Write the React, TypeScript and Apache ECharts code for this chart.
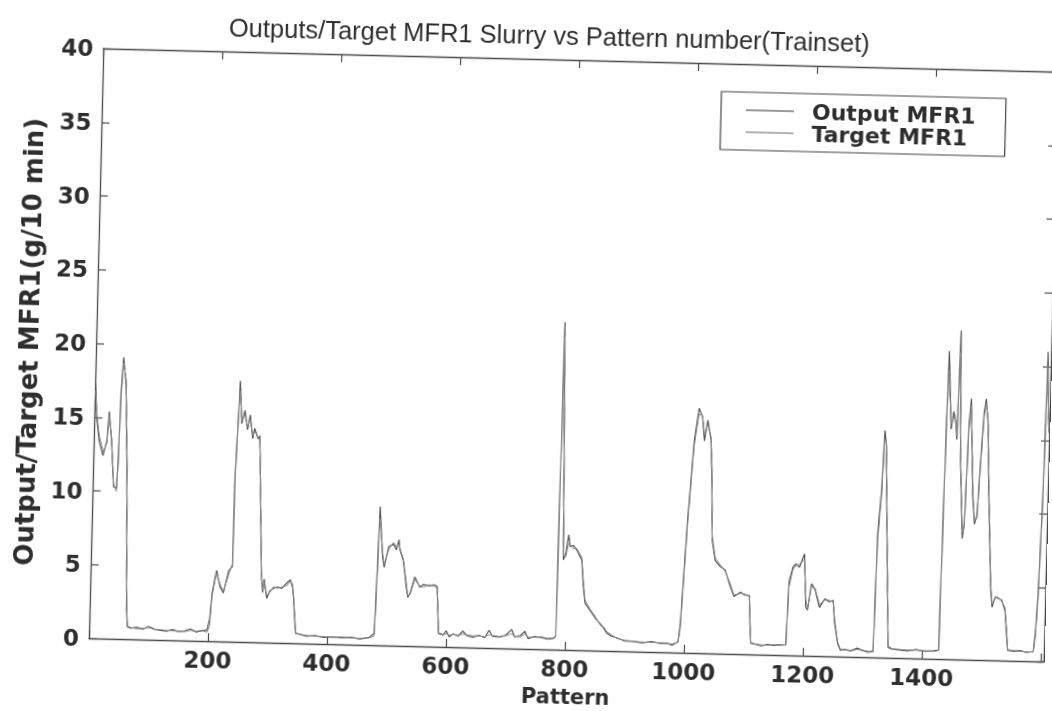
import React, { useEffect, useRef } from "react";
import * as echarts from "echarts";

const titleText = "Outputs/Target MFR1 Slurry vs Pattern number(Trainset)";
const xName = "Pattern";
const yName = "Output/Target MFR1(g/10 min)";
const seriesNames = ["Output MFR1", "Target MFR1"];

const patterns = [
  1, 4, 9, 16, 22, 25, 30, 35, 40, 42, 44, 47, 52, 57, 62, 64, 70, 80, 90, 100,
  110, 120, 130, 140, 150, 160, 170, 180, 190, 198, 202, 205, 209, 212, 218, 224, 232, 238, 239, 241,
  244, 248, 253, 258, 262, 267, 270, 276, 279, 285, 287, 290, 292, 297, 302, 308, 315, 322, 331, 336,
  340, 342, 345, 347, 355, 365, 380, 395, 410, 425, 440, 455, 470, 479, 481, 484, 490, 493, 500, 508,
  513, 517, 519, 525, 531, 534, 538, 545, 554, 560, 570, 577, 583, 585, 587, 595, 600, 605, 612, 620,
  628, 635, 645, 655, 665, 672, 678, 690, 700, 710, 715, 725, 732, 738, 748, 760, 770, 780, 784, 787,
  794, 798, 802, 805, 810, 816, 825, 828, 832, 841, 850, 859, 865, 870, 878, 887, 900, 915, 930, 945,
  960, 971, 980, 990, 993, 1001, 1009, 1016, 1022, 1026, 1031, 1037, 1040, 1043, 1049, 1058, 1066, 1075, 1082, 1093,
  1100, 1108, 1110, 1112, 1120, 1130, 1140, 1150, 1160, 1171, 1174, 1180, 1185, 1191, 1199, 1203, 1206, 1212, 1218, 1226,
  1235, 1242, 1249, 1252, 1258, 1263, 1270, 1280, 1291, 1300, 1310, 1318, 1321, 1326, 1329, 1332, 1336, 1340, 1343, 1350,
  1360, 1375, 1390, 1405, 1420, 1428, 1430, 1432, 1434, 1440, 1444, 1448, 1450, 1453, 1457, 1463, 1466, 1470, 1473, 1476,
  1479, 1483, 1487, 1491, 1495, 1498, 1502, 1506, 1513, 1516, 1521, 1526, 1532, 1538, 1542, 1544, 1555, 1565, 1575, 1587,
  1590, 1593, 1597, 1600, 1603, 1605,
];

const outputMFR1 = [
  17.3, 15.0, 13.4, 12.4, 13.4, 15.4, 13.4, 10.3, 10.2, 12.3, 16.8, 19.1, 17.3, 11.4, 2.0, 0.83, 0.75, 0.82, 0.7, 0.9,
  0.72, 0.65, 0.6, 0.72, 0.6, 0.66, 0.8, 0.6, 0.7, 0.75, 1.5, 3.2, 4.2, 4.8, 3.7, 3.3, 4.8, 5.1, 11.4, 13.7,
  17.7, 14.8, 15.7, 14.4, 15.4, 13.8, 14.5, 13.8, 14.0, 7.0, 4.6, 3.4, 4.3, 3.0, 3.5, 3.7, 3.8, 3.7, 4.1, 4.3,
  3.8, 3.1, 1.5, 0.67, 0.6, 0.5, 0.55, 0.45, 0.5, 0.45, 0.5, 0.4, 0.5, 0.8, 4.0, 9.4, 6.0, 5.3, 6.7, 6.9,
  6.5, 7.2, 6.5, 5.8, 4.0, 3.3, 3.6, 4.7, 4.0, 4.2, 4.1, 4.2, 4.1, 2.5, 0.9, 0.8, 1.1, 0.7, 0.9, 0.75,
  1.1, 0.8, 0.7, 0.85, 0.7, 1.2, 0.8, 0.75, 0.9, 1.3, 0.8, 0.9, 1.2, 0.7, 0.85, 0.8, 0.7, 0.75, 0.9, 22.2,
  6.1, 6.6, 7.8, 7.0, 7.1, 6.8, 6.1, 4.5, 3.2, 2.7, 2.2, 1.8, 1.5, 1.2, 1.0, 0.9, 0.7, 0.68, 0.6, 0.7,
  0.6, 0.62, 0.5, 0.75, 2.0, 9.0, 14.4, 16.6, 16.0, 14.4, 15.8, 14.5, 12.0, 7.7, 6.3, 5.9, 5.7, 4.6, 3.9, 4.2,
  4.0, 4.0, 2.0, 0.76, 0.7, 0.6, 0.7, 0.65, 0.7, 0.7, 5.0, 6.0, 6.2, 6.0, 6.9, 3.3, 3.1, 4.9, 4.5, 3.3,
  3.9, 3.7, 3.8, 2.3, 0.9, 0.43, 0.5, 0.4, 0.6, 0.45, 0.35, 0.4, 8.5, 11.5, 15.4, 14.4, 9.0, 4.2, 0.7, 0.6,
  0.55, 0.5, 0.6, 0.5, 0.55, 0.6, 8.7, 16.0, 20.9, 15.6, 16.8, 15.9, 14.9, 22.3, 13.6, 8.2, 9.2, 16.0, 17.7, 14.3,
  11.1, 9.2, 9.8, 13.6, 16.8, 17.7, 16.0, 11.2, 4.8, 3.6, 4.3, 4.2, 4.1, 3.4, 1.5, 0.7, 0.65, 0.7, 0.6, 0.66,
  2.0, 4.7, 11.3, 21.0, 16.5, 15.5,
];

const targetMFR1 = [
  16.8, 15.3, 13.8, 12.7, 13.2, 15.1, 13.6, 10.5, 10.0, 11.8, 16.2, 18.7, 17.6, 12.0, 2.6, 0.9, 0.8, 0.72, 0.76, 0.82,
  0.7, 0.7, 0.66, 0.64, 0.62, 0.6, 0.7, 0.66, 0.7, 0.6, 1.0, 3.0, 4.0, 4.6, 3.9, 3.4, 4.5, 5.3, 10.5, 14.0,
  17.0, 15.0, 15.4, 14.6, 15.1, 14.0, 14.3, 13.9, 13.8, 7.6, 4.8, 3.6, 4.1, 3.2, 3.4, 3.8, 3.7, 3.8, 3.9, 4.2,
  4.0, 3.3, 1.9, 0.7, 0.62, 0.55, 0.5, 0.5, 0.48, 0.5, 0.46, 0.45, 0.48, 0.6, 3.0, 8.6, 6.3, 5.5, 6.5, 7.0,
  6.7, 6.9, 6.6, 5.9, 4.3, 3.4, 3.5, 4.5, 4.1, 4.0, 4.2, 4.1, 4.0, 2.8, 0.95, 0.85, 0.9, 0.8, 0.85, 0.8,
  0.9, 0.85, 0.8, 0.8, 0.75, 0.9, 0.85, 0.8, 0.85, 1.0, 0.85, 0.8, 1.0, 0.8, 0.8, 0.85, 0.75, 0.8, 0.85, 21.2,
  6.4, 6.3, 7.2, 7.1, 6.9, 6.9, 6.3, 4.9, 3.4, 2.8, 2.3, 1.7, 1.6, 1.3, 1.1, 0.85, 0.75, 0.7, 0.66, 0.65,
  0.64, 0.6, 0.58, 0.7, 1.6, 8.6, 14.0, 16.2, 16.1, 14.8, 15.5, 14.7, 12.6, 8.0, 6.5, 6.0, 5.6, 4.8, 4.0, 4.1,
  4.1, 3.9, 2.4, 0.8, 0.72, 0.66, 0.65, 0.7, 0.66, 0.72, 4.6, 5.8, 6.1, 6.2, 6.5, 3.8, 3.2, 4.7, 4.6, 3.5,
  3.8, 3.8, 3.7, 2.6, 1.0, 0.5, 0.46, 0.45, 0.5, 0.48, 0.4, 0.42, 7.8, 11.0, 14.8, 14.6, 9.6, 4.6, 0.8, 0.62,
  0.6, 0.55, 0.56, 0.54, 0.5, 0.58, 8.0, 15.2, 19.6, 15.9, 16.4, 16.1, 15.2, 20.8, 14.0, 8.6, 9.0, 15.5, 17.2, 14.8,
  11.6, 9.4, 9.6, 13.2, 16.4, 17.4, 16.3, 11.8, 5.2, 3.8, 4.2, 4.3, 4.0, 3.6, 1.9, 0.75, 0.7, 0.66, 0.64, 0.62,
  1.6, 4.2, 10.6, 20.0, 16.9, 15.8,
];

const xMin = 0;
const xMax = 1605;
const xInterval = 200;
const yMin = 0;
const yMax = 40;
const yInterval = 5;

const numFont = "DejaVu Sans";
const textColor = "#2e2e2e";
const axisColor = "#4a4a4a";

const mkLine = () => ({ show: true, onZero: false, lineStyle: { color: axisColor, width: 1.3 } });
const mkTick = () => ({ show: true, inside: true, length: 8, lineStyle: { color: axisColor, width: 1.2 } });

export default function App() {
  const ref = useRef<HTMLDivElement>(null);

  useEffect(() => {
    if (!ref.current) return;
    const chart = echarts.init(ref.current, undefined, { renderer: "svg" });

    const outData = patterns.map((p, i) => [p, outputMFR1[i]]);
    const tgtData = patterns.map((p, i) => [p, targetMFR1[i]]);

    chart.setOption({
      animation: false,
      backgroundColor: "#ffffff",
      title: {
        text: titleText,
        left: 221,
        top: 23,
        padding: 0,
        textStyle: {
          fontFamily: "Liberation Sans",
          fontSize: 25.5,
          fontWeight: "normal",
          color: textColor,
        },
      },
      legend: {
        orient: "vertical",
        left: 715,
        top: 88,
        padding: [7, 30, 7, 25],
        itemGap: 0,
        itemWidth: 48,
        itemHeight: 1.5,
        icon: "rect",
        borderColor: "#444",
        borderWidth: 1.2,
        backgroundColor: "#ffffff",
        textStyle: {
          fontFamily: numFont,
          fontWeight: "bold",
          fontSize: 22,
          lineHeight: 22,
          color: textColor,
          padding: [0, 0, 0, 13],
        },
        data: seriesNames,
      },
      grid: { left: 96, right: 1, top: 60, bottom: 61, containLabel: false, outerBoundsMode: "none" },
      xAxis: [
        {
          type: "value",
          position: "bottom",
          min: xMin,
          max: xMax,
          interval: xInterval,
          axisLine: mkLine(),
          axisTick: mkTick(),
          splitLine: { show: false },
          axisLabel: {
            margin: 7,
            fontFamily: numFont,
            fontWeight: "bold",
            fontSize: 23,
            color: textColor,
            formatter: (v: number) => (v === 0 || v >= 1600 ? "" : String(v)),
          },
          name: xName,
          nameLocation: "middle",
          nameGap: 36,
          nameTextStyle: {
            fontFamily: numFont,
            fontWeight: "bold",
            fontSize: 21,
            color: textColor,
          },
        },
        {
          type: "value",
          position: "top",
          min: xMin,
          max: xMax,
          interval: xInterval,
          axisLine: mkLine(),
          axisTick: mkTick(),
          axisLabel: { show: false },
          splitLine: { show: false },
        },
      ],
      yAxis: [
        {
          type: "value",
          position: "left",
          min: yMin,
          max: yMax,
          interval: yInterval,
          axisLine: mkLine(),
          axisTick: mkTick(),
          splitLine: { show: false },
          axisLabel: {
            margin: 10,
            fontFamily: numFont,
            fontWeight: "bold",
            fontSize: 23,
            color: textColor,
          },
          name: yName,
          nameLocation: "middle",
          nameGap: 54,
          nameTextStyle: {
            fontFamily: numFont,
            fontWeight: "bold",
            fontSize: 26,
            color: textColor,
          },
        },
        {
          type: "value",
          position: "right",
          min: yMin,
          max: yMax,
          interval: yInterval,
          axisLine: mkLine(),
          axisTick: mkTick(),
          axisLabel: { show: false },
          splitLine: { show: false },
        },
      ],
      series: [
        {
          name: seriesNames[0],
          type: "line",
          data: outData,
          symbol: "none",
          lineStyle: { color: "#555555", width: 1.2 },
          itemStyle: { color: "#777777" },
        },
        {
          name: seriesNames[1],
          type: "line",
          data: tgtData,
          symbol: "none",
          lineStyle: { color: "#8c8c8c", width: 1 },
          itemStyle: { color: "#999999" },
        },
      ],
    });

    return () => chart.dispose();
  }, []);

  return (
    <div
      ref={ref}
      style={{
        position: "fixed",
        left: 0,
        top: 0,
        width: 1052,
        height: 711,
        transform: "rotate(1.4deg)",
        transformOrigin: "573.5px 355px",
        background: "#ffffff",
      }}
    />
  );
}
